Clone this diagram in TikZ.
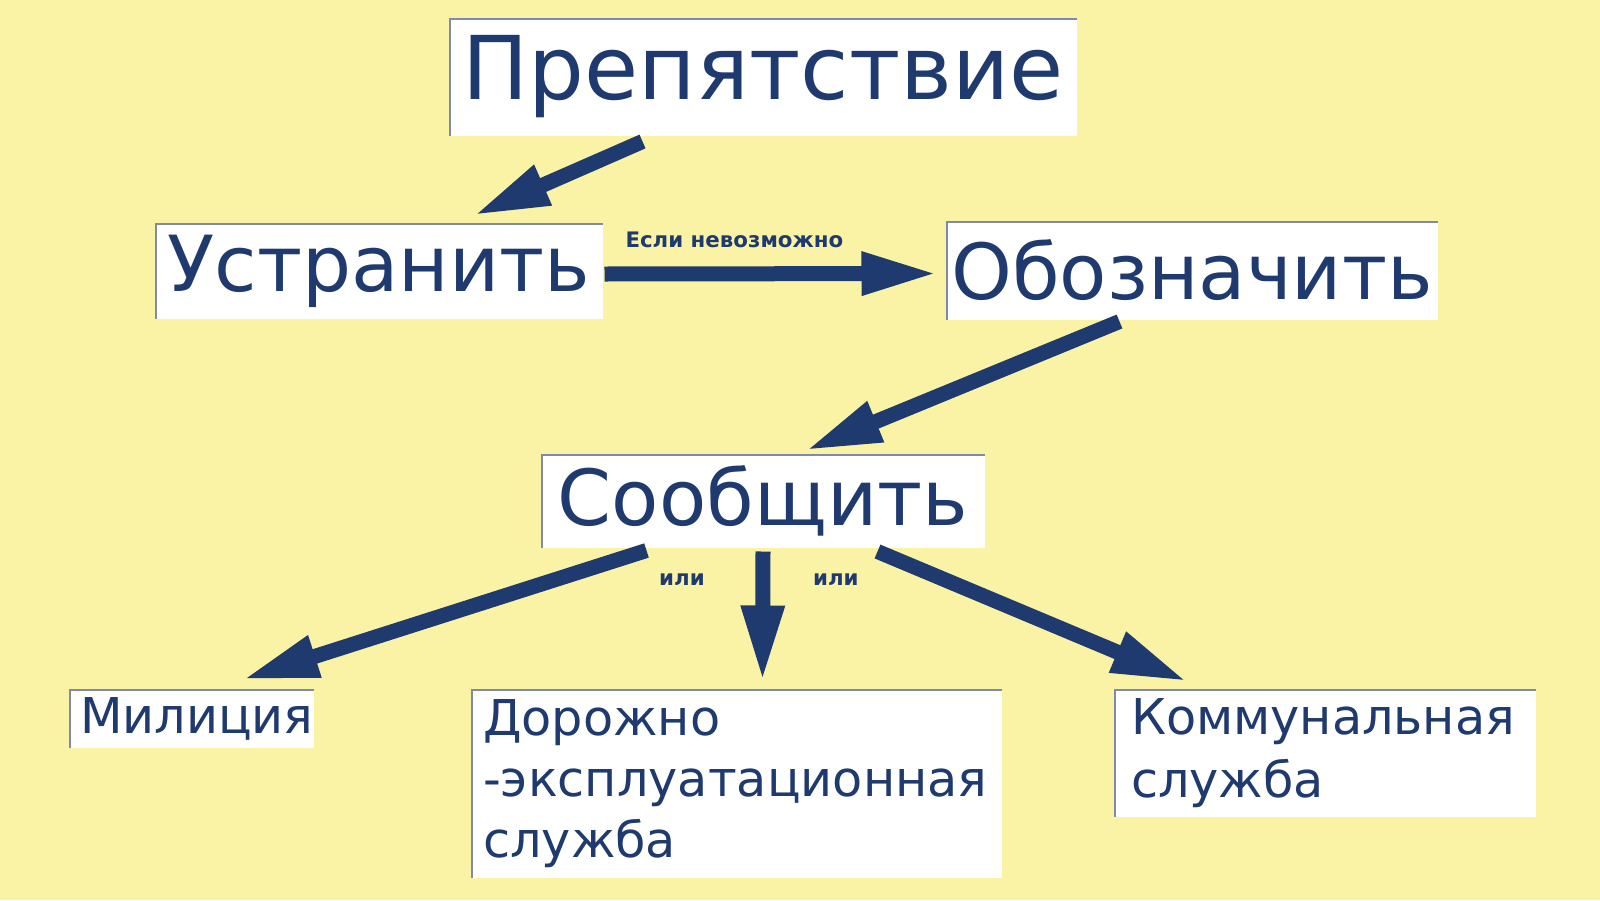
\documentclass[tikz,border=0pt]{standalone}
\usepackage{fontspec}
\setmainfont{DejaVu Sans}
\usetikzlibrary{arrows.meta,calc}

\definecolor{navy}{RGB}{31,58,110}
\definecolor{paper}{RGB}{250,243,166}
\definecolor{bevel}{RGB}{125,138,172}

\tikzset{every picture/.style={line width=0.75pt}}
\tikzset{
  box/.style={fill=white, text=navy, inner sep=0pt, anchor=center,
    path picture={\draw[bevel, line width=3.5pt]
      (path picture bounding box.south west) |- (path picture bounding box.north east);}},
  bigarrow/.style={draw=navy, line width=11.25pt,
    -{Triangle[length=57pt 0,width=30pt 0]}},
  lbl/.style={text=navy, inner sep=0pt, font=\bfseries\fontsize{16}{19}\selectfont},
}

\begin{document}
\begin{tikzpicture}[x=0.75pt,y=0.75pt,yscale=-1,xscale=1]
\useasboundingbox (0,0) rectangle (1600,900);
\fill[paper] (0,0) rectangle (1600,900);

% Boxes
\node[box, minimum width=471pt, minimum height=88.5pt, font=\fontsize{66}{78}\selectfont] (prep) at (763,77) {Препятствие};
\node[box, minimum width=336pt, minimum height=72pt, font=\fontsize{58}{70}\selectfont] (ustr) at (379,271) {Устранить};
\node[box, minimum width=369pt, minimum height=74.25pt, font=\fontsize{58}{70}\selectfont] (oboz) at (1192,270.5) {Обозначить};
\node[box, minimum width=333pt, minimum height=70.5pt, font=\fontsize{58}{70}\selectfont] (soob) at (763,501) {Сообщить};
% bottom row
\node[box, minimum width=183.75pt, minimum height=44.25pt, text width=167.25pt, align=left, font=\fontsize{37}{46}\selectfont] (mil) at (191.5,718.5) {Милиция};
\node[box, minimum width=398.25pt, minimum height=141.75pt, text width=380pt, align=left, font=\fontsize{37}{46}\selectfont] (dor) at (736.5,783.5) {Дорожно\\-эксплуатационная\\служба};
\node[box, minimum width=316.5pt, minimum height=96pt, text width=291pt, align=left, font=\fontsize{37}{47}\selectfont] (komm) at (1325,753) {Коммунальная\\служба};

% Arrows
\draw[bigarrow] ($(prep.south west)+(194,5)$) -- ($(ustr.north west)+(319,-7)$);
\draw[bigarrow] ($(ustr.east)+(1,3)$) -- node[lbl, pos=0.39, above=14pt] (esli) {Если невозможно} ($(oboz.west)+(-8,3)$);
\draw[bigarrow] ($(oboz.south west)+(174,1)$) -- ($(soob.north west)+(265,-3)$);
\draw[bigarrow] ($(soob.south west)+(106,2)$) -- ($(mil.north west)+(174,-9)$);
\draw[bigarrow] ($(soob.south)+(0,3)$) -- node[lbl, pos=0.22, left=38pt] (ili1) {или} node[lbl, pos=0.22, right=32pt] (ili2) {или} ($(dor.north west)+(292,-7)$);
\draw[bigarrow] ($(soob.south west)+(337,3)$) -- ($(komm.north west)+(74,-7)$);
\end{tikzpicture}
\end{document}
